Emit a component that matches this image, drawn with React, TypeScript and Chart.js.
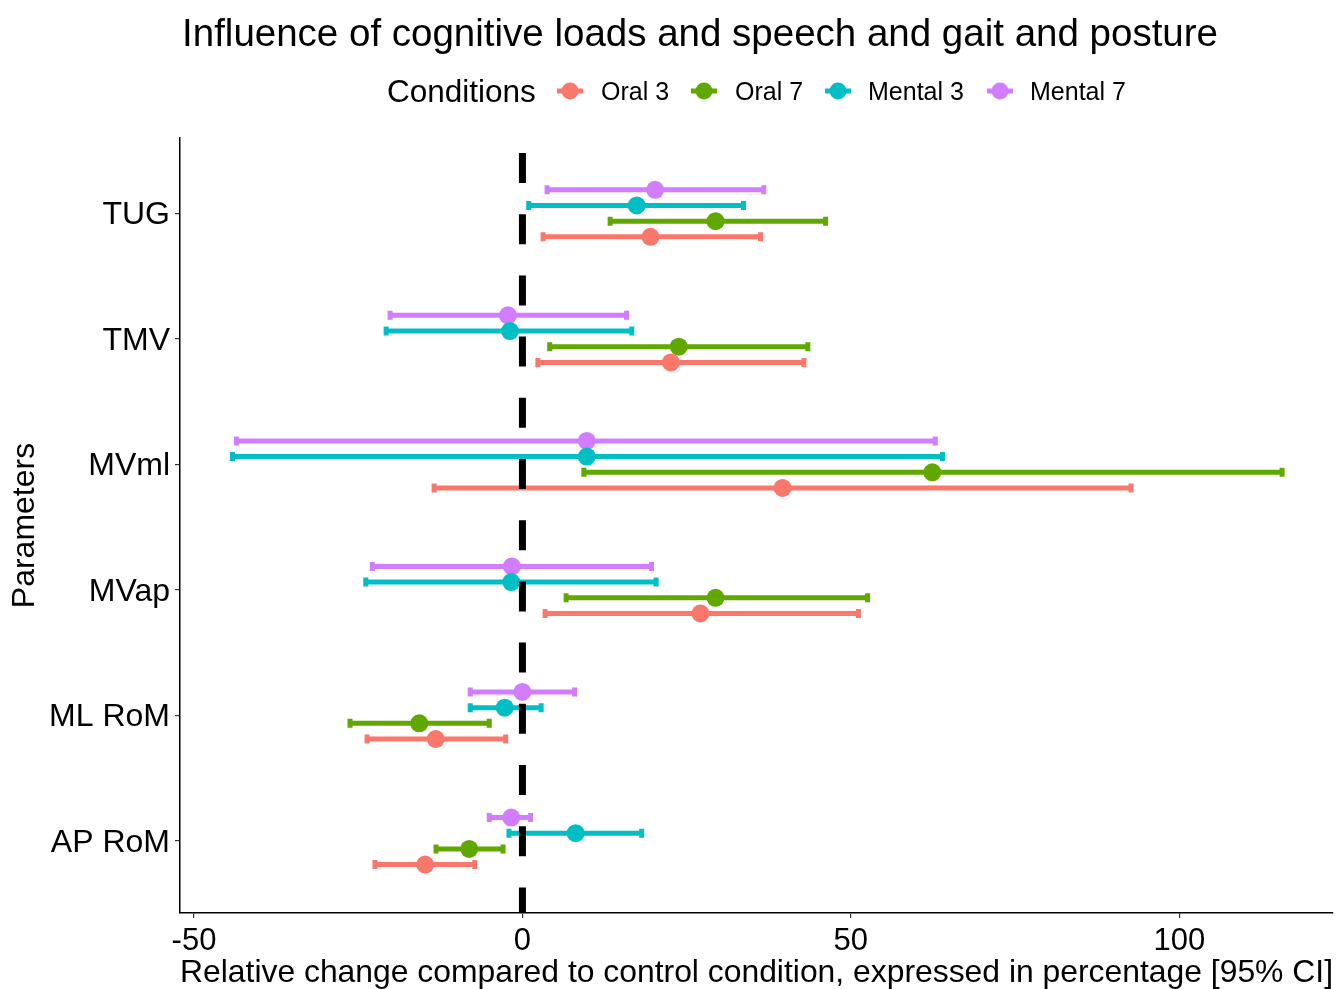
import React, { useEffect, useRef } from "react";
import { Chart, registerables } from "chart.js";

Chart.register(...registerables);

const titleText = "Influence of cognitive loads and speech and gait and posture";
const legendTitle = "Conditions";
const xTitle = "Relative change compared to control condition, expressed in percentage [95% CI]";
const yTitle = "Parameters";

const categories = ["TUG", "TMV", "MVml", "MVap", "ML RoM", "AP RoM"];
const conditions = ["Oral 3", "Oral 7", "Mental 3", "Mental 7"];
const colors = ["#FA776C", "#60A800", "#00BFC4", "#D27CFF"];

const oral3Est = [19.5, 22.6, 39.6, 27.1, -13.2, -14.8];
const oral3Lo = [3.0, 2.2, -13.6, 3.3, -23.8, -22.6];
const oral3Hi = [36.4, 43.0, 92.8, 51.3, -2.4, -7.1];

const oral7Est = [29.4, 23.8, 62.4, 29.4, -15.7, -8.1];
const oral7Lo = [13.2, 4.0, 9.2, 6.5, -26.4, -13.3];
const oral7Hi = [46.3, 43.6, 115.8, 52.7, -4.9, -2.8];

const mental3Est = [17.4, -1.9, 9.8, -1.7, -2.7, 8.1];
const mental3Lo = [0.8, -20.9, -44.3, -24.0, -8.1, -2.2];
const mental3Hi = [33.8, 16.8, 64.1, 20.5, 3.0, 18.3];

const mental7Est = [20.2, -2.2, 9.8, -1.6, 0.0, -1.7];
const mental7Lo = [3.6, -20.3, -43.7, -23.0, -8.1, -5.2];
const mental7Hi = [36.9, 16.0, 63.0, 19.8, 8.1, 1.4];

const dodge = [0.1875, 0.0625, -0.0625, -0.1875];
const xTicks = [-50, 0, 50, 100];
const refLine = 0;

const FONT = '"Liberation Sans", Arial, Helvetica, sans-serif';

const seriesEst = [oral3Est, oral7Est, mental3Est, mental7Est];
const seriesLo = [oral3Lo, oral7Lo, mental3Lo, mental7Lo];
const seriesHi = [oral3Hi, oral7Hi, mental3Hi, mental7Hi];

const errorBarPlugin = {
  id: "errorBars",
  beforeDatasetsDraw(chart: any) {
    const { ctx, scales } = chart;
    const xs = scales.x;
    const ys = scales.y;
    ctx.save();
    chart.data.datasets.forEach((ds: any) => {
      ctx.strokeStyle = ds.backgroundColor;
      ds.data.forEach((p: any) => {
        const y = ys.getPixelForValue(p.y);
        const x1 = xs.getPixelForValue(p.lo);
        const x2 = xs.getPixelForValue(p.hi);
        ctx.lineWidth = 5;
        ctx.lineCap = "butt";
        ctx.beginPath();
        ctx.moveTo(x1, y);
        ctx.lineTo(x2, y);
        ctx.stroke();
        ctx.lineWidth = 5;
        ctx.beginPath();
        ctx.moveTo(x1 + 1, y - 4.5);
        ctx.lineTo(x1 + 1, y + 4.5);
        ctx.moveTo(x2 - 1, y - 4.5);
        ctx.lineTo(x2 - 1, y + 4.5);
        ctx.stroke();
      });
    });
    ctx.restore();
  },
};

const refLinePlugin = {
  id: "refLine",
  afterDatasetsDraw(chart: any) {
    const { ctx, scales, chartArea } = chart;
    const x = scales.x.getPixelForValue(refLine);
    ctx.save();
    ctx.strokeStyle = "#000";
    ctx.lineWidth = 7;
    ctx.setLineDash([30, 31.2]);
    ctx.lineDashOffset = 46.2;
    ctx.beginPath();
    ctx.moveTo(x, chartArea.top);
    ctx.lineTo(x, chartArea.bottom);
    ctx.stroke();
    ctx.restore();
  },
};

const headerPlugin = {
  id: "header",
  afterDraw(chart: any) {
    const { ctx } = chart;
    ctx.save();
    ctx.fillStyle = "#000";
    ctx.textBaseline = "alphabetic";
    ctx.textAlign = "center";
    ctx.font = `38.5px ${FONT}`;
    ctx.fillText(titleText, 700, 46);

    ctx.textAlign = "left";
    ctx.font = `31.5px ${FONT}`;
    ctx.fillText(legendTitle, 387, 102);

    const markerX = [570, 704, 838, 1000];
    const textX = [601, 735, 868, 1030];
    const my = 91;
    ctx.font = `25px ${FONT}`;
    conditions.forEach((name, i) => {
      const c = chart.data.datasets[i].backgroundColor;
      ctx.strokeStyle = c;
      ctx.fillStyle = c;
      ctx.lineWidth = 5;
      ctx.beginPath();
      ctx.moveTo(markerX[i] - 13, my);
      ctx.lineTo(markerX[i] + 13, my);
      ctx.stroke();
      ctx.beginPath();
      ctx.arc(markerX[i], my, 8.5, 0, Math.PI * 2);
      ctx.fill();
      ctx.fillStyle = "#000";
      ctx.fillText(name, textX[i], 100);
    });
    ctx.restore();
  },
};

export default function App() {
  const ref = useRef<HTMLCanvasElement | null>(null);

  useEffect(() => {
    if (!ref.current) return;
    const datasets = conditions.map((name, k) => ({
      label: name,
      type: "scatter" as const,
      data: categories.map((_, i) => ({
        x: seriesEst[k][i],
        y: i + dodge[k],
        lo: seriesLo[k][i],
        hi: seriesHi[k][i],
      })),
      backgroundColor: colors[k],
      borderColor: colors[k],
      pointRadius: 9,
      pointHoverRadius: 9,
      borderWidth: 0,
    }));

    const chart = new Chart(ref.current, {
      type: "scatter",
      data: { datasets },
      options: {
        responsive: false,
        animation: false,
        devicePixelRatio: 1,
        layout: { padding: { top: 138, left: 0, right: 7, bottom: 0 } },
        plugins: {
          legend: { display: false },
          title: { display: false },
          tooltip: { enabled: false },
        },
        scales: {
          x: {
            type: "linear",
            min: -52.13,
            max: 123.4,
            afterBuildTicks: (s: any) => {
              s.ticks = xTicks.map((v) => ({ value: v }));
            },
            afterFit: (s: any) => {
              s.height = 76;
            },
            ticks: {
              color: "#000",
              font: { family: FONT, size: 31 },
              padding: 5,
              maxRotation: 0,
              autoSkip: false,
            },
            grid: {
              display: true,
              drawOnChartArea: false,
              drawTicks: true,
              tickLength: 5,
              color: "#333",
              lineWidth: 1.2,
            },
            border: { display: true, color: "#000", width: 1.5 },
            title: {
              display: true,
              text: xTitle,
              color: "#000",
              font: { family: FONT, size: 32, lineHeight: 1.0 },
              padding: { top: 0, bottom: 0 },
            },
          },
          y: {
            type: "linear",
            reverse: true,
            min: -0.6,
            max: 5.573,
            afterBuildTicks: (s: any) => {
              s.ticks = categories.map((_, i) => ({ value: i }));
            },
            afterFit: (s: any) => {
              s.width = 180;
            },
            ticks: {
              color: "#000",
              font: { family: FONT, size: 32 },
              padding: 5,
              labelOffset: 2,
              autoSkip: false,
              callback: (v: any) => categories[Math.round(Number(v))],
            },
            grid: {
              display: true,
              drawOnChartArea: false,
              drawTicks: true,
              tickLength: 5,
              color: "#333",
              lineWidth: 1.2,
            },
            border: { display: true, color: "#000", width: 1.5 },
            title: {
              display: true,
              text: yTitle,
              color: "#000",
              font: { family: FONT, size: 32 },
              padding: { top: 6, bottom: 0 },
            },
          },
        },
      },
      plugins: [errorBarPlugin, refLinePlugin, headerPlugin],
    });
    return () => chart.destroy();
  }, []);

  return (
    <div style={{ position: "absolute", left: 0, top: 0, width: 1342, height: 989, background: "#fff" }}>
      <canvas ref={ref} width={1342} height={989} style={{ display: "block" }} />
    </div>
  );
}
